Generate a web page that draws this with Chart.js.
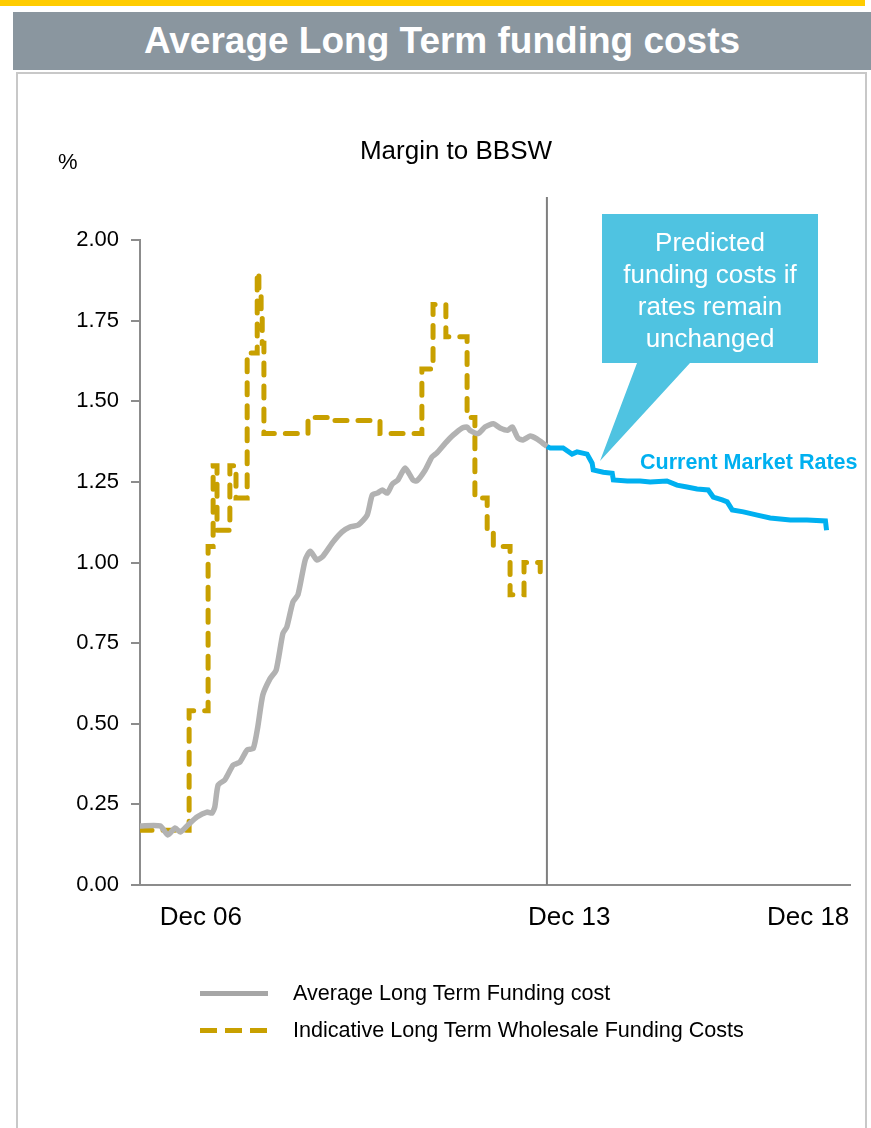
<!DOCTYPE html>
<html>
<head>
<meta charset="utf-8">
<title>Average Long Term funding costs</title>
<script src="https://cdn.jsdelivr.net/npm/chart.js@4.4.1/dist/chart.umd.min.js"></script>
<style>
  html, body { margin: 0; padding: 0; background: #fff; }
  body {
    width: 871px; height: 1128px; position: relative; overflow: hidden;
    font-family: "Liberation Sans", Arial, sans-serif; color: #000;
  }
  .top-bar { position: absolute; left: 0; top: 0; width: 865px; height: 6px; background: #ffcc00; }
  .header {
    position: absolute; left: 13px; top: 12px; width: 858px; height: 58px;
    background: #8a969f; color: #fff; font-weight: bold; font-size: 37px;
    line-height: 58px; text-align: center;
  }
  .panel {
    position: absolute; left: 16px; top: 72px; width: 847px; height: 1080px;
    border: 2px solid #c8c8c8;
  }
  #agroChart { position: absolute; left: 0; top: 0; }
  .sub-title {
    position: absolute; left: 336px; top: 135px; width: 240px;
    text-align: center; font-size: 26px; line-height: 30px;
  }
  .unit { position: absolute; left: 58px; top: 149px; font-size: 22px; line-height: 26px; }
  .callout-shape {
    position: absolute; left: 600px; top: 214px; width: 218px; height: 248px;
    background: #4fc3e1;
    clip-path: polygon(2px 0, 218px 0, 218px 149px, 90px 149px, 0 247px, 37px 149px, 2px 149px);
  }
  .callout-text {
    position: absolute; left: 600px; top: 226px; width: 220px;
    text-align: center; color: #fff; font-size: 26px; line-height: 32px;
  }
  .market-label {
    position: absolute; left: 640px; top: 450px; color: #00b0f0;
    font-weight: bold; font-size: 21.5px; line-height: 24px; white-space: nowrap;
  }
  .legend-item { position: absolute; left: 200px; height: 30px; }
  .legend-sample { position: absolute; left: 0; width: 68px; height: 5px; }
  .legend-text {
    position: absolute; left: 93px; top: 0; font-size: 21.6px; line-height: 30px; white-space: nowrap;
  }
</style>
</head>
<body>
  <div class="top-bar"></div>
  <div class="header">Average Long Term funding costs</div>
  <div class="panel"></div>
  <canvas id="agroChart" width="871" height="1128"></canvas>
  <div class="sub-title">Margin to BBSW</div>
  <div class="unit">%</div>
  <div class="callout-shape"></div>
  <div class="callout-text">Predicted<br>funding costs if<br>rates remain<br>unchanged</div>
  <div class="market-label">Current Market Rates</div>
  <div id="legend"></div>

<script>
// x values are decimal years
const avgYears = [
  2006.62, 2006.98, 2007.12, 2007.25, 2007.34, 2007.48, 2007.64, 2007.82, 2007.91, 2007.96,
  2008.02, 2008.14, 2008.29, 2008.41, 2008.54, 2008.65, 2008.73, 2008.82, 2008.95, 2009.06,
  2009.18, 2009.25, 2009.36, 2009.45, 2009.58, 2009.67, 2009.79, 2009.90, 2010.08, 2010.24,
  2010.38, 2010.53, 2010.69, 2010.78, 2010.87, 2010.96, 2011.05, 2011.14, 2011.24, 2011.37,
  2011.51, 2011.58, 2011.73, 2011.85, 2011.94, 2012.09, 2012.23, 2012.39, 2012.48, 2012.53,
  2012.68, 2012.80, 2012.95, 2013.07, 2013.21, 2013.29, 2013.39, 2013.48, 2013.61, 2013.73,
  2013.88, 2013.91
];
const avgValues = [
  0.183, 0.183, 0.155, 0.177, 0.164, 0.186, 0.211, 0.226, 0.223, 0.242,
  0.310, 0.326, 0.372, 0.381, 0.419, 0.424, 0.490, 0.589, 0.640, 0.667,
  0.780, 0.800, 0.878, 0.900, 1.008, 1.035, 1.008, 1.020, 1.064, 1.095,
  1.110, 1.116, 1.147, 1.209, 1.215, 1.225, 1.215, 1.243, 1.256, 1.293,
  1.256, 1.253, 1.287, 1.327, 1.340, 1.370, 1.395, 1.417, 1.420, 1.410,
  1.400, 1.420, 1.430, 1.417, 1.410, 1.420, 1.386, 1.380, 1.392, 1.383,
  1.364, 1.360
];

const wholesaleYears = [
  2006.62, 2007.50, 2007.84, 2007.93, 2008.00, 2008.23, 2008.34, 2008.54, 2008.72, 2008.75,
  2008.79, 2008.81, 2008.84, 2009.63, 2009.99, 2010.92, 2011.67, 2011.87, 2012.10, 2012.48,
  2012.62, 2012.84, 2012.95, 2013.25, 2013.50, 2013.79
];
const wholesaleValues = [
  0.17, 0.54, 1.05, 1.30, 1.10, 1.30, 1.20, 1.65, 1.90, 1.84,
  1.76, 1.68, 1.40, 1.45, 1.44, 1.40, 1.60, 1.80, 1.70, 1.45,
  1.20, 1.10, 1.05, 0.90, 1.00, 0.95
];

const marketYears = [
  2013.91, 2013.97, 2014.20, 2014.36, 2014.45, 2014.63, 2014.72, 2014.74, 2014.92, 2015.08,
  2015.10, 2015.35, 2015.58, 2015.76, 2016.06, 2016.24, 2016.42, 2016.60, 2016.80, 2016.89,
  2017.05, 2017.14, 2017.23, 2017.43, 2017.68, 2017.91, 2018.27, 2018.57, 2018.90, 2018.92
];
const marketValues = [
  1.360, 1.355, 1.355, 1.336, 1.343, 1.336, 1.308, 1.287, 1.280, 1.277,
  1.256, 1.253, 1.253, 1.250, 1.253, 1.240, 1.234, 1.228, 1.225, 1.203,
  1.194, 1.188, 1.163, 1.157, 1.147, 1.138, 1.132, 1.132, 1.129, 1.100
];

const xTickLabels = ["Dec 06", "Dec 13", "Dec 18"];
const xTickValues = [2007.71, 2014.31, 2018.59];
const forecastStart = 2013.91;

document.addEventListener("DOMContentLoaded", () => {
  const chart = initChart();
  initLegend(chart);
});

function toPoints(xs, ys) {
  return xs.map((x, i) => ({ x: x, y: ys[i] }));
}

/* vertical line at the start of the forecast */
const forecastLinePlugin = {
  id: "forecastLine",
  beforeDatasetsDraw(chart) {
    const { ctx, chartArea, scales } = chart;
    const x = scales.x.getPixelForValue(forecastStart);
    ctx.save();
    ctx.strokeStyle = "#7f7f7f";
    ctx.lineWidth = 2;
    ctx.beginPath();
    ctx.moveTo(x, chartArea.top - 43);
    ctx.lineTo(x, chartArea.bottom);
    ctx.stroke();
    ctx.restore();
  }
};

function initChart() {
  const ctx = document.getElementById("agroChart");
  const axisColor = "#8c8c8c";

  return new Chart(ctx, {
    type: "line",
    data: {
      datasets: [
        {
          label: "Average Long Term Funding cost",
          data: toPoints(avgYears, avgValues),
          borderColor: "#b2b2b2",
          borderWidth: 5.5,
          pointRadius: 0,
          tension: 0.2,
          legendColor: "#a6a6a6"
        },
        {
          label: "Indicative Long Term Wholesale Funding Costs",
          data: toPoints(wholesaleYears, wholesaleValues),
          borderColor: "#c8a000",
          borderWidth: 5,
          borderDash: [12, 11],
          borderCapStyle: "round",
          stepped: true,
          pointRadius: 0,
          legendColor: "#c8a000",
          legendDashed: true
        },
        {
          label: "Current Market Rates",
          data: toPoints(marketYears, marketValues),
          borderColor: "#00b0f0",
          borderWidth: 5,
          pointRadius: 0,
          hideInLegend: true
        }
      ]
    },
    options: {
      responsive: false,
      animation: false,
      layout: { padding: { top: 240, right: 21, bottom: 183, left: 0 } },
      plugins: {
        legend: { display: false },
        tooltip: { enabled: false }
      },
      scales: {
        x: {
          type: "linear",
          min: 2006.62,
          max: 2019.34,
          afterBuildTicks: scale => {
            scale.ticks = xTickValues.map(v => ({ value: v }));
          },
          afterFit: scale => { scale.height = 60; },
          ticks: {
            autoSkip: false,
            maxRotation: 0,
            padding: 9,
            color: "#000",
            font: { family: "'Liberation Sans', Arial, sans-serif", size: 26 },
            callback: (value, index) => xTickLabels[index]
          },
          grid: { display: false },
          border: { color: axisColor, width: 2 }
        },
        y: {
          min: 0,
          max: 2,
          afterFit: scale => { scale.width = 140; },
          ticks: {
            stepSize: 0.25,
            padding: 12,
            color: "#000",
            font: { family: "'Liberation Sans', Arial, sans-serif", size: 22 },
            callback: value => Number(value).toFixed(2)
          },
          grid: {
            drawOnChartArea: false,
            drawTicks: true,
            tickLength: 9,
            color: axisColor,
            lineWidth: 2
          },
          border: { color: axisColor, width: 2 }
        }
      }
    },
    plugins: [forecastLinePlugin]
  });
}

/* legend below the chart */
function initLegend(chart) {
  const legend = document.getElementById("legend");
  const rowTops = [978, 1015];
  let row = 0;

  chart.data.datasets.forEach(ds => {
    if (ds.hideInLegend) return;

    const item = document.createElement("div");
    item.className = "legend-item";
    item.style.top = rowTops[row] + "px";

    const sample = document.createElement("div");
    sample.className = "legend-sample";
    sample.style.top = "13px";
    if (ds.legendDashed) {
      sample.style.background =
        "repeating-linear-gradient(to right, " + ds.legendColor + " 0 17px, transparent 17px 25px)";
    } else {
      sample.style.background = ds.legendColor;
    }

    const text = document.createElement("div");
    text.className = "legend-text";
    text.textContent = ds.label;

    item.appendChild(sample);
    item.appendChild(text);
    legend.appendChild(item);
    row++;
  });
}
</script>
</body>
</html>
